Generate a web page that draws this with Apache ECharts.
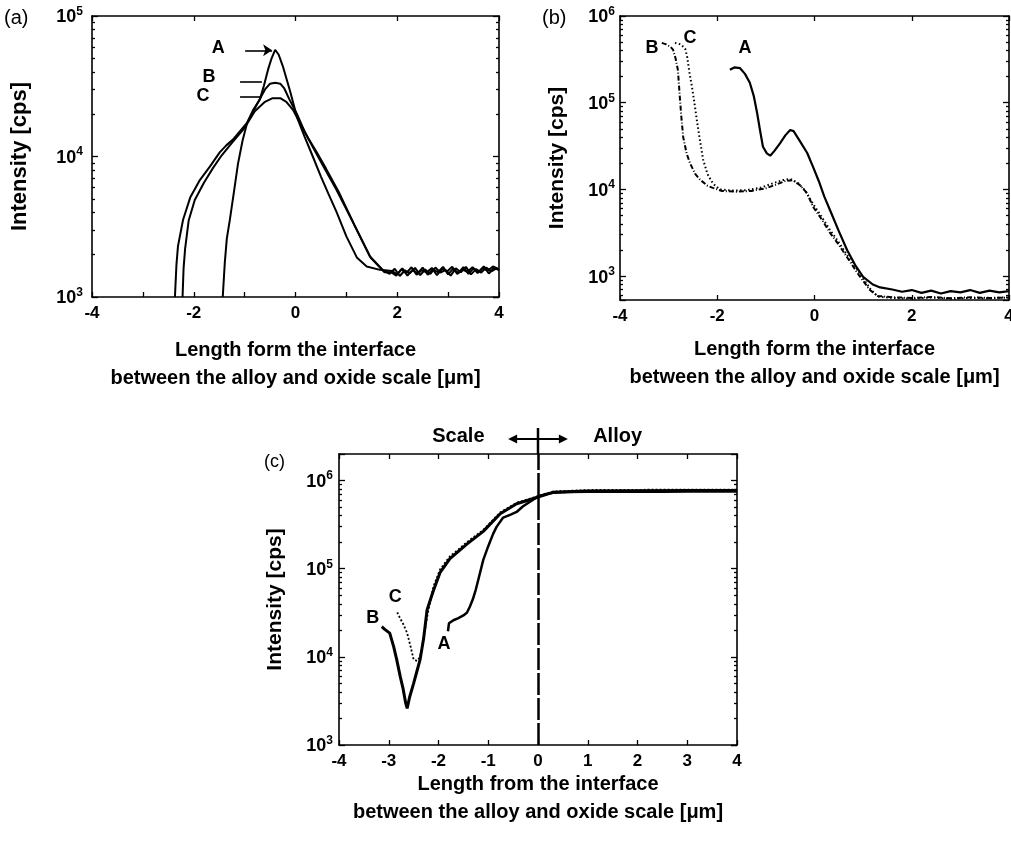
<!DOCTYPE html>
<html>
<head>
<meta charset="utf-8">
<script src="https://cdn.jsdelivr.net/npm/echarts@6/dist/echarts.min.js"></script>
<style>
  html, body { margin: 0; padding: 0; background: #fff; }
  #chart { width: 1011px; height: 844px; }
</style>
</head>
<body>
<div id="chart"></div>
<script>
// ---- panel (a) ----
const aAx = [-1.43, -1.39, -1.35, -1.29, -1.21, -1.13, -1.04, -0.95, -0.83, -0.7, -0.62, -0.54, -0.47, -0.4, -0.33, -0.25, -0.18, -0.11, 0.03, 0.18, 0.34, 0.5, 0.65, 0.81, 1.0, 1.21, 1.4, 1.66,
  1.9, 2.0, 2.1, 2.2, 2.3, 2.4, 2.5, 2.6, 2.7, 2.8, 2.9, 3.0, 3.1, 3.2, 3.3, 3.4, 3.5, 3.6, 3.7, 3.8, 3.9, 4.0]
const aAy = [1000, 1750, 2600, 3550, 5600, 8900, 13000, 17400, 21500, 25500, 32000, 41500, 50000, 57500, 53000, 44000, 36000, 29500, 19000, 13800, 10000, 7200, 5400, 4000, 2700, 1900, 1650, 1560,
  1530, 1450, 1600, 1420, 1560, 1470, 1620, 1440, 1580, 1500, 1640, 1450, 1590, 1480, 1630, 1460, 1600, 1510, 1650, 1470, 1610, 1560]
const aBx = [-2.37, -2.34, -2.31, -2.21, -2.07, -1.88, -1.68, -1.49, -1.36, -1.23, -0.95, -0.76, -0.6, -0.5, -0.4, -0.3, -0.22, -0.12, 0.03, 0.18, 0.34, 0.55, 0.81, 1.13, 1.46, 1.72,
  1.85, 1.95, 2.05, 2.15, 2.25, 2.35, 2.45, 2.55, 2.65, 2.75, 2.85, 2.95, 3.05, 3.15, 3.25, 3.35, 3.45, 3.55, 3.65, 3.75, 3.85, 3.95, 4.0]
const aBy = [1000, 1700, 2300, 3550, 5100, 6800, 8500, 10700, 12000, 13200, 17400, 23400, 30000, 33000, 33500, 33000, 30500, 25500, 20000, 15000, 11700, 8500, 5750, 3400, 1950, 1550,
  1460, 1590, 1410, 1550, 1480, 1610, 1430, 1570, 1460, 1620, 1490, 1560, 1420, 1600, 1500, 1640, 1450, 1580, 1490, 1620, 1520, 1600, 1550]
const aCx = [-2.22, -2.2, -2.17, -2.1, -1.98, -1.8, -1.62, -1.45, -1.25, -1.0, -0.8, -0.6, -0.45, -0.3, -0.18, -0.05, 0.1, 0.25, 0.4, 0.6, 0.85, 1.15, 1.48, 1.75,
  1.88, 1.98, 2.08, 2.18, 2.28, 2.38, 2.48, 2.58, 2.68, 2.78, 2.88, 2.98, 3.08, 3.18, 3.28, 3.38, 3.48, 3.58, 3.68, 3.78, 3.88, 3.98]
const aCy = [1000, 1600, 2200, 3500, 4900, 6500, 8300, 10200, 12500, 16000, 21000, 24500, 26000, 26000, 24500, 21500, 17000, 13500, 11000, 8200, 5600, 3300, 1900, 1500,
  1500, 1420, 1570, 1480, 1630, 1440, 1550, 1500, 1610, 1430, 1580, 1520, 1640, 1460, 1570, 1510, 1630, 1480, 1600, 1540, 1650, 1590]

// ---- panel (b) ----
const bAx = [-1.74, -1.65, -1.53, -1.43, -1.33, -1.25, -1.18, -1.12, -1.06, -0.98, -0.91, -0.82, -0.71, -0.6, -0.5, -0.43, -0.3, -0.15, -0.03, 0.1, 0.2, 0.32, 0.5, 0.67, 0.85, 1.0, 1.2, 1.35,
  1.6, 1.8, 2.0, 2.2, 2.4, 2.6, 2.8, 3.0, 3.2, 3.4, 3.6, 3.8, 4.0]
const bAy = [240000, 255000, 250000, 215000, 170000, 120000, 76000, 48000, 31000, 26000, 24500, 28000, 34000, 42000, 48500, 47000, 36000, 26300, 18200, 12000, 8300, 5750, 3300, 2000, 1300, 980, 800, 740,
  700, 660, 690, 640, 680, 630, 670, 650, 690, 640, 680, 650, 670]
const bBx = [-3.14, -3.05, -2.96, -2.91, -2.86, -2.81, -2.77, -2.74, -2.7, -2.63, -2.56, -2.45, -2.35, -2.2, -2.09, -1.9, -1.6, -1.3, -1.0, -0.8, -0.6, -0.45, -0.3, -0.15, -0.03, 0.15, 0.32, 0.5, 0.67, 0.9, 1.14, 1.3,
  1.6, 2.0, 2.4, 2.8, 3.2, 3.6, 4.0]
const bBy = [490000, 470000, 440000, 410000, 330000, 240000, 117000, 70000, 40000, 26000, 20000, 15000, 12900, 11000, 10400, 9600, 9400, 9600, 10300, 11300, 12500, 12800, 11200, 9000, 6300, 4500, 3150, 2300, 1650, 1050, 690, 590,
  570, 560, 575, 555, 570, 560, 565]
const bCx = [-2.87, -2.75, -2.66, -2.62, -2.57, -2.52, -2.47, -2.42, -2.35, -2.29, -2.2, -2.09, -1.95, -1.7, -1.4, -1.1, -0.85, -0.65, -0.5, -0.35, -0.2, -0.03, 0.15, 0.32, 0.5, 0.67, 0.9, 1.14, 1.3,
  1.6, 2.0, 2.4, 2.8, 3.2, 3.6, 4.0]
const bCy = [490000, 470000, 420000, 340000, 220000, 152000, 100000, 63000, 35000, 22000, 15000, 11700, 10000, 9700, 9800, 10500, 11800, 12800, 13200, 12000, 9800, 6800, 4800, 3400, 2450, 1750, 1150, 720, 580,
  560, 550, 565, 550, 560, 555, 570]

// ---- panel (c) ----
const cAx = [-1.81, -1.79, -1.7, -1.6, -1.5, -1.43, -1.37, -1.31, -1.25, -1.2, -1.1, -1.0, -0.9, -0.83, -0.7, -0.55, -0.43, -0.3, -0.16, 0, 0.15, 0.3, 0.6, 1.0, 1.5, 2.0, 2.5, 3.0, 3.5, 4.0]
const cAy = [19500, 24000, 26000, 27500, 29500, 31600, 37000, 45000, 58000, 75000, 126000, 180000, 250000, 300000, 380000, 410000, 440000, 510000, 575000, 660000, 700000, 725000, 740000, 745000, 745000, 748000, 748000, 750000, 750000, 750000]
const cBx = [-3.14, -3.08, -2.98, -2.9, -2.84, -2.77, -2.71, -2.66, -2.63, -2.58, -2.5, -2.43, -2.37, -2.3, -2.23, -2.16, -2.1, -1.97, -1.77, -1.43, -1.1, -0.76, -0.43, -0.15, 0, 0.3, 1.0, 2.0, 3.0, 4.0]
const cBy = [22000, 20500, 18600, 13000, 9300, 6000, 4300, 3000, 2600, 3500, 5000, 7000, 9300, 16000, 34000, 45000, 57000, 90000, 130000, 190000, 265000, 420000, 545000, 610000, 650000, 735000, 760000, 765000, 770000, 770000]
const cCx = [-2.83, -2.78, -2.7, -2.63, -2.56, -2.5, -2.43, -2.37, -2.3, -2.23, -2.17, -2.1, -1.97, -1.77, -1.6, -1.43, -1.1, -0.76, -0.43, -0.02, 0.3, 1.0, 2.0, 3.0, 4.0]
const cCy = [32000, 28000, 23000, 18600, 13000, 9300, 9000, 10000, 16000, 28000, 42000, 63000, 98000, 138000, 165000, 200000, 275000, 435000, 560000, 660000, 750000, 780000, 785000, 790000, 790000]

// curve labels (x, y in data units)
const aLabels = [['A', -1.52, 59000], ['B', -1.70, 36800], ['C', -1.82, 27000]]
const bLabels = [['B', -3.34, 427000], ['C', -2.56, 560000], ['A', -1.43, 427000]]
const cLabels = [['C', -2.87, 48000], ['B', -3.32, 27500], ['A', -1.89, 13800]]
// pointer lines in (a): [x1, x2, y]
const aPointers = [[-0.99, -0.46, 57000], [-1.09, -0.66, 34000], [-1.09, -0.66, 26500]]

const xName1 = 'Length form the interface\nbetween the alloy and oxide scale [μm]'
const xName2 = 'Length from the interface\nbetween the alloy and oxide scale [μm]'
const yName = 'Intensity [cps]'

const minorTicks = []
for (let k = 2; k <= 6; k++) {
  for (let m = 2; m <= 9; m++)
    minorTicks.push(m * Math.pow(10, k))
}

const FONT = '\'Liberation Sans\', Arial, Helvetica, sans-serif'
const chart = echarts.init(document.getElementById('chart'))
const zip = (xs, ys) => xs.map((x, i) => [x, ys[i]])

// 10^n labels on the log axes
function logLabel(v) {
  const p = Math.log10(v)
  const r = Math.round(p)
  if (Math.abs(p - r) > 1e-6)
    return ''
  return `{b|10}{s|${r}}`
}
const yRich = {
  b: { fontFamily: FONT, fontWeight: 'bold', fontSize: 18, color: '#000', verticalAlign: 'bottom' },
  s: { fontFamily: FONT, fontWeight: 'bold', fontSize: 12, color: '#000', verticalAlign: 'bottom', padding: [0, 0, 9, 0] },
}
const lineBlack = { color: '#000', width: 1.6 }
const tickBlack = { color: '#000', width: 1.3 }

function xAxes(gi, bottomStep, topStep, labelEvery, name, nameGap) {
  const common = { type: 'value', gridIndex: gi, min: -4, max: 4, splitLine: { show: false } }
  return [
    {
      ...common,
      position: 'bottom',
      interval: bottomStep,
      axisLine: { show: true, onZero: false, lineStyle: lineBlack },
      axisTick: { inside: true, length: 5, lineStyle: tickBlack },
      axisLabel: {
        color: '#000',
        fontFamily: FONT,
        fontWeight: 'bold',
        fontSize: 17,
        margin: 8,
        formatter: v => (Math.round(v) % labelEvery === 0 ? String(v) : ''),
      },
      name,
      nameLocation: 'middle',
      nameGap,
      nameTextStyle: { color: '#000', fontFamily: FONT, fontWeight: 'bold', fontSize: 20, lineHeight: 28 },
    },
    {
      ...common,
      position: 'top',
      interval: topStep,
      axisLine: { show: true, onZero: false, lineStyle: lineBlack },
      axisTick: { inside: true, length: 5, lineStyle: tickBlack },
      axisLabel: { show: false },
    },
  ]
}

function yAxes(gi, min, max, margin, nameGap, nameSize) {
  const common = { type: 'log', logBase: 10, gridIndex: gi, min, max, splitLine: { show: false } }
  const minor = {
    ...common,
    axisLine: { show: false, onZero: false },
    axisTick: { inside: true, length: 3, lineStyle: tickBlack, customValues: minorTicks.filter(v => v > min && v < max) },
    axisLabel: { show: false },
  }
  return [
    {
      ...common,
      position: 'left',
      axisLine: { show: true, onZero: false, lineStyle: lineBlack },
      axisTick: { inside: true, length: 6, lineStyle: tickBlack },
      axisLabel: { formatter: logLabel, rich: yRich, margin },
      name: yName,
      nameLocation: 'middle',
      nameRotate: 90,
      nameGap,
      nameTextStyle: { color: '#000', fontFamily: FONT, fontWeight: 'bold', fontSize: nameSize },
    },
    {
      ...common,
      position: 'right',
      axisLine: { show: true, onZero: false, lineStyle: lineBlack },
      axisTick: { inside: true, length: 6, lineStyle: tickBlack },
      axisLabel: { show: false },
    },
    { ...minor, position: 'left' },
    { ...minor, position: 'right' },
  ]
}

function curve(xs, ys, xi, yi, style) {
  return {
    type: 'line',
    xAxisIndex: xi,
    yAxisIndex: yi,
    data: zip(xs, ys),
    showSymbol: false,
    symbol: 'none',
    silent: true,
    lineStyle: { color: '#000', width: 2, ...style },
  }
}

function labels(list, xi, yi) {
  return {
    type: 'scatter',
    xAxisIndex: xi,
    yAxisIndex: yi,
    symbolSize: 0.5,
    silent: true,
    itemStyle: { color: '#fff', opacity: 1 },
    label: {
      show: true,
      position: 'inside',
      formatter: '{b}',
      color: '#000',
      textBorderWidth: 0,
      fontFamily: FONT,
      fontWeight: 'bold',
      fontSize: 18,
    },
    data: list.map(d => ({ name: d[0], value: [d[1], d[2]] })),
  }
}

const aLabelSeries = labels(aLabels, 0, 0)
aLabelSeries.markLine = {
  silent: true,
  symbol: ['none', 'none'],
  label: { show: false },
  lineStyle: { color: '#000', width: 1.6, type: 'solid' },
  data: aPointers.map((p, i) => [
    { coord: [p[0], p[2]], symbol: 'none' },
    { coord: [p[1], p[2]], symbol: i === 0 ? 'arrow' : 'none', symbolSize: 9 },
  ]),
}

const cASeries = curve(cAx, cAy, 4, 8, { width: 2.5 })
cASeries.markLine = {
  silent: true,
  symbol: ['none', 'none'],
  label: { show: false },
  lineStyle: { color: '#000', width: 2.5, type: [22, 3] },
  data: [{ xAxis: 0 }],
}

const option = {
  backgroundColor: '#fff',
  animation: false,
  grid: [
    { left: 92, top: 16, width: 407, height: 281, outerBoundsMode: 'none' },
    { left: 620, top: 16, width: 389, height: 284, outerBoundsMode: 'none' },
    { left: 339, top: 454, width: 398, height: 291, outerBoundsMode: 'none' },
  ],
  xAxis: [
    ...xAxes(0, 1, 2, 2, xName1, 39),
    ...xAxes(1, 2, 2, 2, xName1, 35),
    ...xAxes(2, 1, 1, 1, xName2, 10),
  ],
  yAxis: [
    ...yAxes(0, 1000, 100000, 9, 61, 22),
    ...yAxes(1, 530, 1000000, 5, 52, 21),
    ...yAxes(2, 1000, 2000000, 6, 53, 21),
  ],
  series: [
    curve(aAx, aAy, 0, 0, {}),
    curve(aBx, aBy, 0, 0, {}),
    curve(aCx, aCy, 0, 0, {}),
    aLabelSeries,
    curve(bAx, bAy, 2, 4, { width: 2.2 }),
    curve(bBx, bBy, 2, 4, { type: [5, 2, 1, 2] }),
    curve(bCx, bCy, 2, 4, { type: [1.5, 2.5] }),
    labels(bLabels, 2, 4),
    cASeries,
    curve(cBx, cBy, 4, 8, { width: 3 }),
    curve(cCx, cCy, 4, 8, { type: [2, 2], width: 1.8 }),
    labels(cLabels, 4, 8),
  ],
}
chart.setOption(option)

// annotations above panel (c): Scale <-> Alloy and the interface line
const px = v => chart.convertToPixel({ xAxisIndex: 4 }, v)
const topY = chart.convertToPixel({ yAxisIndex: 8 }, 2000000)
const x0 = px(0)
const xl = px(-0.6)
const xr = px(0.6)
const ay = topY - 15
const textStyle = { font: `bold 20px ${FONT}`, fill: '#000', textAlign: 'center', textVerticalAlign: 'middle' }
chart.setOption({
  graphic: [
    { type: 'text', left: 4, top: 8, style: { text: '(a)', font: `20px ${FONT}`, fill: '#000' } },
    { type: 'text', left: 542, top: 8, style: { text: '(b)', font: `20px ${FONT}`, fill: '#000' } },
    { type: 'text', left: 264, top: 453, style: { text: '(c)', font: `18px ${FONT}`, fill: '#000' } },
    { type: 'text', x: px(-1.6), y: topY - 18, style: { ...textStyle, text: 'Scale' } },
    { type: 'text', x: px(1.6), y: topY - 18, style: { ...textStyle, text: 'Alloy' } },
    { type: 'line', shape: { x1: x0, y1: topY - 26, x2: x0, y2: topY }, style: { stroke: '#000', lineWidth: 2.5 } },
    { type: 'line', shape: { x1: xl + 4, y1: ay, x2: xr - 4, y2: ay }, style: { stroke: '#000', lineWidth: 2 } },
    { type: 'polygon', shape: { points: [[xl, ay], [xl + 9, ay - 4.5], [xl + 9, ay + 4.5]] }, style: { fill: '#000' } },
    { type: 'polygon', shape: { points: [[xr, ay], [xr - 9, ay - 4.5], [xr - 9, ay + 4.5]] }, style: { fill: '#000' } },
  ],
})
</script>
</body>
</html>
